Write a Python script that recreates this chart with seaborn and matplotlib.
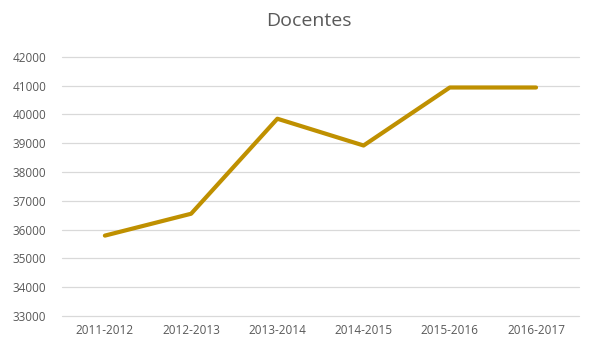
import pandas as pd
import matplotlib
matplotlib.use("Agg")
import matplotlib.pyplot as plt
import seaborn as sns

# data
years = ['2011-2012', '2012-2013', '2013-2014', '2014-2015', '2015-2016', '2016-2017']
docentes = [35790, 36550, 39850, 38920, 40935, 40935]

df = pd.DataFrame({'Curso': years, 'Docentes': docentes})

sns.set_style('white')
plt.rcParams['font.family'] = ['Open Sans', 'DejaVu Sans']

fig = plt.figure(figsize=(5.94, 3.53), dpi=100)
ax = fig.add_axes([0.104, 0.105, 0.871, 0.734])

sns.lineplot(x='Curso', y='Docentes', data=df, sort=False, color='#BF9000',
             linewidth=3, ax=ax)

ax.set_ylim(33000, 42000)
ax.set_yticks(range(33000, 42001, 1000))
ax.set_xlim(-0.5, len(years) - 0.5)
ax.grid(axis='y', color='#D9D9D9', linewidth=0.9)
for gl in ax.get_ygridlines():
    gl.set_clip_on(False)
ax.set_axisbelow(True)
for s in ax.spines.values():
    s.set_visible(False)
ax.tick_params(axis='both', length=0, labelsize=8.5, labelcolor='#595959')
ax.tick_params(axis='y', pad=11)
ax.tick_params(axis='x', pad=6)
ax.set_xlabel('')
ax.set_ylabel('')
fig.suptitle('Docentes', x=0.52, y=0.965, fontsize=14, color='#595959')

fig.savefig('out.png', dpi=100)
